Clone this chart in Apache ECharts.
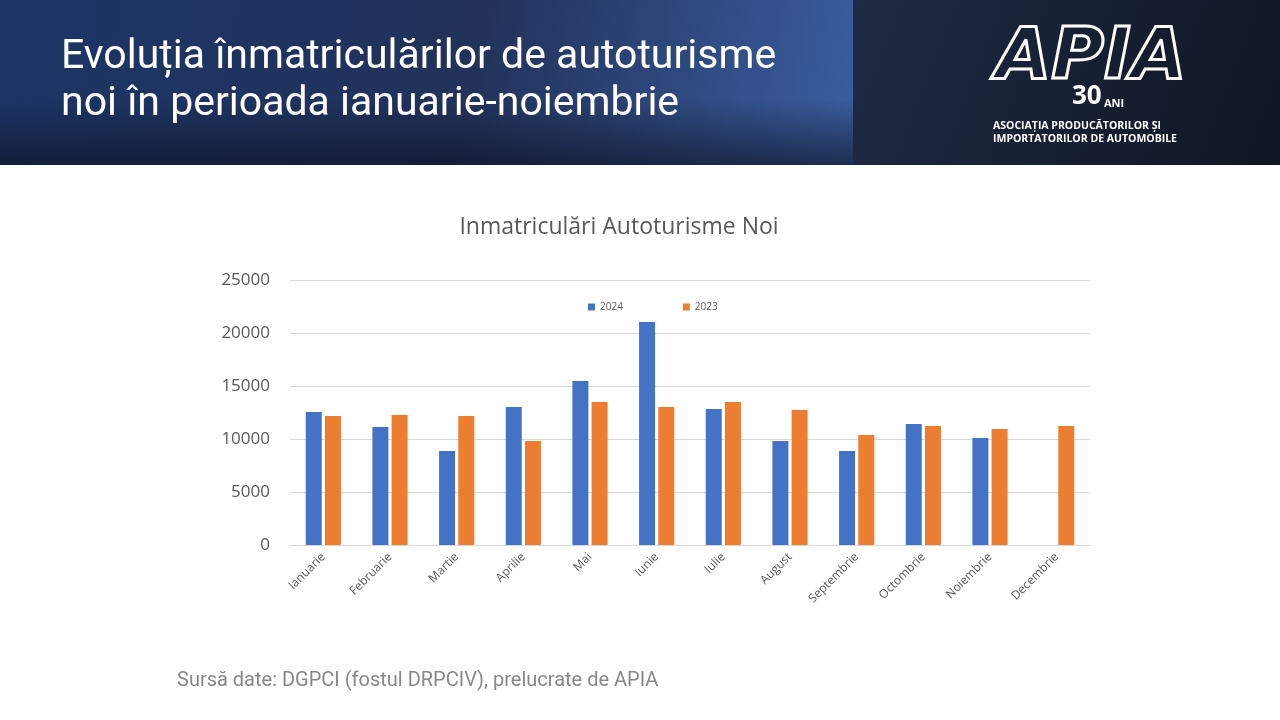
<!DOCTYPE html>
<html><head><meta charset="utf-8">
<script src="https://cdn.jsdelivr.net/npm/echarts@6/dist/echarts.min.js"></script>
<style>html,body{margin:0;padding:0;background:#fff}#c{width:1280px;height:720px}</style>
</head><body><div id="c"></div>
<script>
var months = ['Ianuarie','Februarie','Martie','Aprilie','Mai','Iunie','Iulie','August','Septembrie','Octombrie','Noiembrie','Decembrie'];
var y2024 = [12550,11130,8870,13020,15470,21040,12830,9810,8870,11420,10090,null];
var y2023 = [12170,12260,12170,9810,13490,13020,13490,12740,10380,11230,10940,11230];

var chart = echarts.init(document.getElementById('c'));
chart.setOption({
    backgroundColor: '#fff',
    title: {
        text: 'Inmatriculări Autoturisme Noi', left: 614, textAlign: 'center', top: 211,
        textStyle: {color: '#595959', fontSize: 23, fontWeight: 'normal', fontFamily: 'Open Sans'}
    },
    legend: {
        top: 297, left: 583, itemWidth: 7, itemHeight: 7, itemGap: 60, icon: 'rect',
        textStyle: {color: '#595959', fontSize: 10, fontFamily: 'Open Sans'},
        data: ['2024', '2023']
    },
    grid: {left: 290, right: 190, top: 280, bottom: 175},
    xAxis: {
        type: 'category', data: months,
        axisLine: {lineStyle: {color: '#d9d9d9'}}, axisTick: {show: false},
        axisLabel: {rotate: 45, color: '#595959', fontSize: 12, fontFamily: 'Open Sans', margin: 10}
    },
    yAxis: {
        type: 'value', min: 0, max: 25000, interval: 5000,
        axisLabel: {color: '#595959', fontSize: 17, fontFamily: 'Open Sans', margin: 20,
                    formatter: function (v) { return String(v); }},
        splitLine: {lineStyle: {color: '#d9d9d9'}}
    },
    series: [
        {name: '2024', type: 'bar', data: y2024, barWidth: 16, barGap: '20%', itemStyle: {color: '#4472c4'}},
        {name: '2023', type: 'bar', data: y2023, barWidth: 16, itemStyle: {color: '#ed7d31'}}
    ],
    graphic: [
        {type: 'rect', shape: {x: 0, y: 0, width: 853, height: 165},
         style: {fill: new echarts.graphic.LinearGradient(0, 0, 1, 1, [
             {offset: 0, color: '#1c3566'}, {offset: 0.55, color: '#22325a'}, {offset: 1, color: '#3a5ea0'}])}},
        {type: 'rect', shape: {x: 0, y: 100, width: 853, height: 65},
         style: {fill: new echarts.graphic.LinearGradient(0, 0, 0, 1, [
             {offset: 0, color: 'rgba(10,15,30,0)'}, {offset: 1, color: 'rgba(10,15,30,0.6)'}])}},
        {type: 'rect', shape: {x: 853, y: 0, width: 427, height: 165},
         style: {fill: new echarts.graphic.LinearGradient(0, 0, 1, 1, [
             {offset: 0, color: '#1f2a44'}, {offset: 1, color: '#0f1522'}])}},
        {type: 'text', left: 61, top: 34,
         style: {text: 'Evoluția înmatriculărilor de autoturisme\nnoi în perioada ianuarie-noiembrie',
                 fill: '#fff', font: '41px Roboto', lineHeight: 47}},
        {type: 'text', left: 994, top: 22,
         style: {text: 'APIA', fill: 'transparent', stroke: '#fff', lineWidth: 3,
                 font: 'italic bold 72px "DejaVu Sans"'}},
        {type: 'text', left: 1072, top: 84,
         style: {text: '30', fill: '#fff', font: 'bold 26px "Open Sans"'}},
        {type: 'text', left: 1104, top: 98,
         style: {text: 'ANI', fill: '#fff', font: 'bold 11px "Open Sans"'}},
        {type: 'text', left: 993, top: 120,
         style: {text: 'ASOCIAȚIA PRODUCĂTORILOR ȘI\nIMPORTATORILOR DE AUTOMOBILE',
                 fill: '#fff', font: 'bold 10.5px "Open Sans"', lineHeight: 13}},
        {type: 'text', left: 177, top: 671,
         style: {text: 'Sursă date: DGPCI (fostul DRPCIV), prelucrate de APIA',
                 fill: '#888', font: '20px Roboto'}}
    ]
});
</script></body></html>
